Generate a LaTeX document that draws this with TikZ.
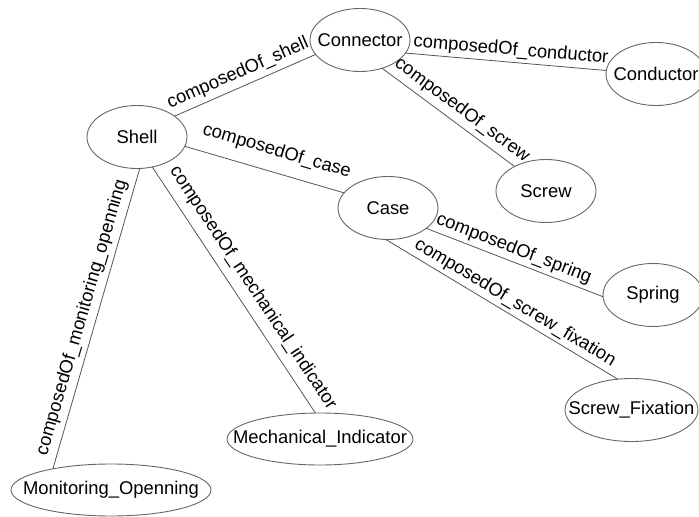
\documentclass[tikz,border=0pt]{standalone}
\usepackage{fontspec}
\setmainfont{Liberation Sans}
\usetikzlibrary{shapes.geometric}
\definecolor{edgegray}{HTML}{555555}
\definecolor{ellgray}{HTML}{666666}
\tikzset{
  ell/.style={ellipse, draw=ellgray, line width=0.9bp, inner sep=0pt, outer sep=0pt,
    minimum width=100bp, minimum height=63bp},
  ellwide/.style={ell, minimum height=52bp},
  txt/.style={font=\fontsize{18.4bp}{22bp}\selectfont, inner sep=0pt, text=black},
  rel/.style={draw=edgegray, line width=0.8bp},
  lab/.style={font=\fontsize{18.4bp}{22bp}\selectfont, inner sep=0pt, sloped, text=black}
}
\begin{document}
\begin{tikzpicture}[x=1bp, y=-1bp]
\useasboundingbox (0,0) rectangle (699,517);
\node[ell, label={[txt]center:Connector}] (connector) at (360,40) {};
\node[ell, label={[txt]center:Shell}] (shell) at (137,137) {};
\node[ell, label={[txt]center:Conductor}] (conductor) at (656,74) {};
\node[ell, label={[txt]center:Screw}] (screw) at (546,191) {};
\node[ell, label={[txt]center:Case}] (case) at (388,208) {};
\node[ell, label={[txt]center:Spring}] (spring) at (653,295) {};
\node[ell, minimum width=133bp, label={[txt]center:Screw\_Fixation}] (fixation) at (631.5,410) {};
\node[ellwide, minimum width=186bp, label={[txt]center:Mechanical\_Indicator}] (mech) at (320,439) {};
\node[ellwide, minimum width=200bp, label={[txt]center:Monitoring\_Openning}] (monitor) at (111,490) {};

\draw[rel] (shell.29) -- node[lab, pos=0.49, above=5bp] {composedOf\_shell} (connector.198);
\draw[rel] (connector.-16) -- node[lab, pos=0.52, above=3bp] {composedOf\_conductor} (conductor.176);
\draw[rel] (connector.-52) -- node[lab, pos=0.54, above=5bp] {composedOf\_screw} (screw.142);
\draw[rel] (shell.-11) -- node[lab, pos=0.54, above=12bp] {composedOf\_case} (case.161);
\draw[rel] (case.-28) -- node[lab, pos=0.47, above=3.5bp] {composedOf\_spring} (spring.182);
\draw[rel] (case.-94) -- node[lab, pos=0.53, above=3.5bp] {composedOf\_screw\_fixation} (fixation.114);
\draw[rel] (shell.-85) -- node[lab, pos=0.51, above=5bp] {composedOf\_monitoring\_openning} (monitor.160);
\draw[rel] (shell.-63) -- node[lab, pos=0.53, above=8bp] {composedOf\_mechanical\_indicator} (mech.100);
\end{tikzpicture}
\end{document}
